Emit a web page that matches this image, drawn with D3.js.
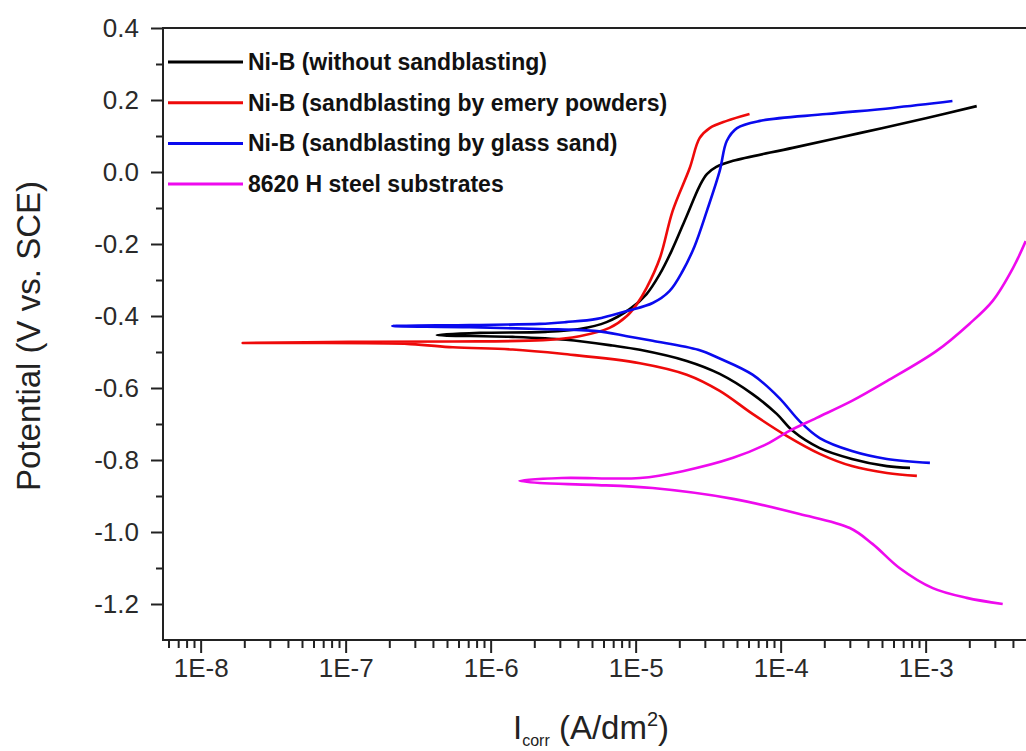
<!DOCTYPE html>
<html>
<head>
    <meta charset="utf-8">
    <style>
        body {
            margin: 0;
            background: #fff;
        }
        svg {
            display: block;
            overflow: hidden;
            font-family: 'Liberation Sans', Arial, sans-serif;
        }
    </style>
</head>
<body>
<svg width="1026" height="751"></svg>

<script src="https://d3js.org/d3.v7.min.js"></script>
<script>
    // [current (A/dm2), potential (V vs SCE)], cathodic end -> Ecorr -> anodic end
    const withoutSandblasting = [
        [7.8e-4, -0.822], [5.4e-4, -0.817], [3.1e-4, -0.797], [1.86e-4, -0.767],
        [1.21e-4, -0.719], [9.4e-5, -0.672], [6.4e-5, -0.617], [3.8e-5, -0.561],
        [2.25e-5, -0.525], [1.07e-5, -0.494], [6.9e-6, -0.482], [3.3e-6, -0.466],
        [1.42e-6, -0.458], [4.25e-7, -0.453],
        [8.4e-7, -0.447], [2.4e-6, -0.444], [4.1e-6, -0.436], [6.3e-6, -0.417],
        [9.1e-6, -0.381], [1.19e-5, -0.339], [1.47e-5, -0.283], [1.77e-5, -0.219],
        [2.25e-5, -0.122], [2.76e-5, -0.039], [3.1e-5, -0.006], [3.6e-5, 0.014],
        [4.7e-5, 0.031], [1.21e-4, 0.067], [3.5e-4, 0.108], [1.02e-3, 0.150],
        [2.25e-3, 0.183]
    ];

    const emeryPowders = [
        [8.7e-4, -0.844], [5.4e-4, -0.836], [3.1e-4, -0.817], [1.86e-4, -0.783],
        [1.10e-4, -0.733], [6.4e-5, -0.672], [3.8e-5, -0.608], [2.25e-5, -0.563],
        [1.07e-5, -0.531], [3.1e-6, -0.505], [1.42e-6, -0.493], [5.5e-7, -0.487],
        [2.8e-7, -0.478], [4.8e-8, -0.475], [1.95e-8, -0.475],
        [1.07e-7, -0.472], [5.5e-7, -0.471], [2.3e-6, -0.467], [4.1e-6, -0.456],
        [6.6e-6, -0.433], [8.7e-6, -0.400], [1.02e-5, -0.367], [1.19e-5, -0.322],
        [1.47e-5, -0.239], [1.8e-5, -0.108], [2.36e-5, 0.011], [2.76e-5, 0.094],
        [3.24e-5, 0.122], [4.25e-5, 0.142], [6.1e-5, 0.161]
    ];

    const glassSand = [
        [1.07e-3, -0.808], [5.4e-4, -0.797], [3.1e-4, -0.775], [1.86e-4, -0.739],
        [1.35e-4, -0.692], [9.8e-5, -0.628], [6.4e-5, -0.563], [3.8e-5, -0.518],
        [2.7e-5, -0.494], [1.31e-5, -0.469], [8.7e-6, -0.456], [5.4e-6, -0.442],
        [2.18e-6, -0.436], [7.2e-7, -0.431], [2.1e-7, -0.428],
        [7.2e-7, -0.425], [2.18e-6, -0.422], [3.3e-6, -0.417], [5.4e-6, -0.408],
        [8.7e-6, -0.386], [1.31e-5, -0.364], [1.71e-5, -0.331], [2.11e-5, -0.275],
        [2.55e-5, -0.206], [3.1e-5, -0.108], [3.8e-5, 0.003], [4.25e-5, 0.086],
        [5.0e-5, 0.122], [7.2e-5, 0.142], [2.07e-4, 0.161], [5.9e-4, 0.178],
        [1.53e-3, 0.197]
    ];

    const steelSubstrate = [
        [3.4e-3, -1.200], [1.92e-3, -1.183], [1.12e-3, -1.156], [6.6e-4, -1.100],
        [4.3e-4, -1.033], [3.0e-4, -0.989], [1.35e-4, -0.950], [4.7e-5, -0.908],
        [1.31e-5, -0.878], [5.0e-6, -0.869], [2.18e-6, -0.864], [1.58e-6, -0.858],
        [3.1e-6, -0.850], [1.07e-5, -0.850], [2.11e-5, -0.831], [4.7e-5, -0.794],
        [8.0e-5, -0.756], [1.15e-4, -0.719], [1.77e-4, -0.683], [3.1e-4, -0.636],
        [5.4e-4, -0.581], [1.19e-3, -0.497], [2.0e-3, -0.422], [2.9e-3, -0.358],
        [4.0e-3, -0.267], [4.9e-3, -0.192]
    ];

    const seriesNames = [
        "Ni-B (without sandblasting)",
        "Ni-B (sandblasting by emery powders)",
        "Ni-B (sandblasting by glass sand)",
        "8620 H steel substrates"
    ];
    const seriesColors = ["#000000", "#ee0a0a", "#0a0aee", "#ee0aee"];
    const seriesData = [withoutSandblasting, emeryPowders, glassSand, steelSubstrate];

    const xMajorTicks = [1e-8, 1e-7, 1e-6, 1e-5, 1e-4, 1e-3];
    const yMajorTicks = [-1.2, -1.0, -0.8, -0.6, -0.4, -0.2, 0.0, 0.2, 0.4];
    const yMinorTicks = [-1.1, -0.9, -0.7, -0.5, -0.3, -0.1, 0.1, 0.3];

    let svg = d3.select("svg")

    let plotLeft = 163, plotTop = 28, plotBottom = 640
    let decade = 145

    let x = d3.scaleLog()
        .domain([5.5e-9, 1e-2])
        .range([plotLeft, plotLeft + Math.log10(1e-2 / 5.5e-9) * decade])

    let y = d3.scaleLinear()
        .domain([-1.3, 0.4])
        .range([plotBottom, plotTop])

    // minor x ticks: 2..9 in each decade
    let xMinorTicks = []
    for (let p = -9; p < -2; p++) {
        for (let m = 2; m <= 9; m++) {
            let v = m * Math.pow(10, p)
            if (v > 5.5e-9 && v < 1e-2) xMinorTicks.push(v)
        }
    }

    // frame (right side falls outside the picture)
    svg.append("rect")
        .attr("x", plotLeft)
        .attr("y", plotTop)
        .attr("width", x.range()[1] - plotLeft)
        .attr("height", plotBottom - plotTop)
        .style("fill", "none")
        .style("stroke", "#222")
        .style("stroke-width", 2)

    svg.append("g")
        .attr("transform", `translate(0,${plotBottom})`)
        .call(d3.axisBottom(x).tickValues(xMinorTicks).tickSize(8).tickFormat(""))

    let xAxis = svg.append("g")
        .attr("transform", `translate(0,${plotBottom})`)
        .call(d3.axisBottom(x).tickValues(xMajorTicks).tickSize(13).tickPadding(6)
            .tickFormat(d => "1E" + Math.round(Math.log10(d))))

    svg.append("g")
        .attr("transform", `translate(${plotLeft},0)`)
        .call(d3.axisLeft(y).tickValues(yMinorTicks).tickSize(7).tickFormat(""))

    let yAxis = svg.append("g")
        .attr("transform", `translate(${plotLeft},0)`)
        .call(d3.axisLeft(y).tickValues(yMajorTicks).tickSize(12).tickPadding(12)
            .tickFormat(d => d3.format(".1f")(d).replace("−", "-")))

    svg.selectAll(".domain").remove()
    svg.selectAll(".tick line").style("stroke", "#222").style("stroke-width", 2)
    xAxis.selectAll("text").style("font-size", "26px").style("fill", "#2a2a2a")
    yAxis.selectAll("text").style("font-size", "26px").style("fill", "#2a2a2a")

    // curves
    let line = d3.line()
        .x(d => x(d[0]))
        .y(d => y(d[1]))
        .curve(d3.curveCatmullRom.alpha(0.5))

    svg.selectAll(".curve")
        .data(seriesData)
        .join("path")
        .attr("class", "curve")
        .attr("d", line)
        .style("fill", "none")
        .style("stroke", (d, i) => seriesColors[i])
        .style("stroke-width", 2.6)
        .style("stroke-linejoin", "round")

    // legend
    let legend = svg.append("g")
    seriesNames.forEach((name, i) => {
        let ly = 62 + i * 40.7
        legend.append("line")
            .attr("x1", 168).attr("x2", 243)
            .attr("y1", ly).attr("y2", ly)
            .style("stroke", seriesColors[i])
            .style("stroke-width", 3)
        legend.append("text")
            .attr("x", 248)
            .attr("y", ly + 8)
            .text(name)
            .style("font-size", "23px")
            .style("font-weight", "bold")
            .style("fill", "#111")
    })

    // axis titles
    svg.append("text")
        .attr("transform", "translate(40,336) rotate(-90)")
        .attr("text-anchor", "middle")
        .style("font-size", "33px")
        .style("fill", "#222")
        .text("Potential (V vs. SCE)")

    let xTitle = svg.append("text")
        .attr("x", 513)
        .attr("y", 739)
        .style("font-size", "33px")
        .style("fill", "#222")
    xTitle.append("tspan").text("I")
    xTitle.append("tspan").attr("dy", 7).style("font-size", "16px").text("corr")
    xTitle.append("tspan").attr("dy", -7).text(" (A/dm")
    xTitle.append("tspan").attr("dy", -13).style("font-size", "20px").text("2")
    xTitle.append("tspan").attr("dy", 13).text(")")
</script>
</body>
</html>
